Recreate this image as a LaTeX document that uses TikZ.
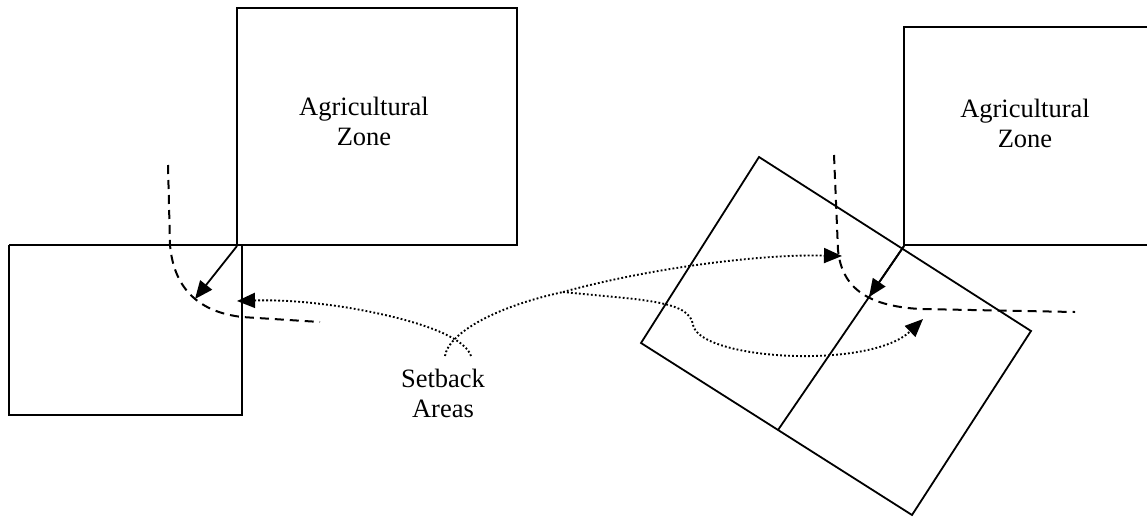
\documentclass[tikz,border=0pt]{standalone}
\usepackage{fontspec}
\setmainfont{Liberation Serif}
\usetikzlibrary{arrows.meta}
\begin{document}
\begin{tikzpicture}[x=1pt,y=-1pt,line width=1.8pt,
tip/.style={-{Triangle[length=18pt,width=15pt]}},
edgeline/.style={line width=2pt,dash pattern=on 9pt off 6pt},
trail/.style={line width=1.9pt,dash pattern=on 1.8pt off 2.2pt},
lbl/.style={font=\fontsize{26.5}{30}\selectfont,align=center,inner sep=0pt}]
\useasboundingbox(0,0)rectangle(1147,517);
\draw(237,8)rectangle(517,245);
\draw(9,245)--(517,245)(9,245)--(9,415)--(242,415)--(242,245);
\draw(1147,27)--(904,27)--(904,245)--(1147,245);
\draw(759,157)--(1031,331)--(912,515)--(641,343)--cycle;
\coordinate(cornerl)at(237,246);
\coordinate(cornerr)at(904,246);
\draw(cornerr)--(778,430);
\node[lbl](agleft)at(364,121){Agricultural\\Zone};
\node[lbl](agright)at(1025,123){Agricultural\\Zone};
\node[lbl](setback)at(443,393){Setback\\Areas};
\coordinate(footl)at(445,356);
\coordinate(footr)at(471,356);
\coordinate(fork)at(563,292);
\draw[edgeline](168,165)--(170,245)..controls(174,290)and(200,312)..(242,317)--(320,322);
\draw[edgeline](834,155)--(838,250)..controls(842,290)and(870,306)..(920,309)--(1075,312);
\draw[tip](cornerl)--(195,299);
\draw[tip](cornerr)--(869,297);
\draw[trail,tip](footr)..controls(466,340)and(430,322)..(350,308)..controls(300,300)and(270,300)..(237,301);
\draw[trail](footl)..controls(448,335)and(490,308)..(fork);
\draw[trail,tip](fork)..controls(650,268)and(760,254)..(842,256);
\draw[trail,tip](fork)..controls(640,300)and(690,300)..(693,325)..controls(700,360)and(870,370)..(923,319);
\end{tikzpicture}
\end{document}
